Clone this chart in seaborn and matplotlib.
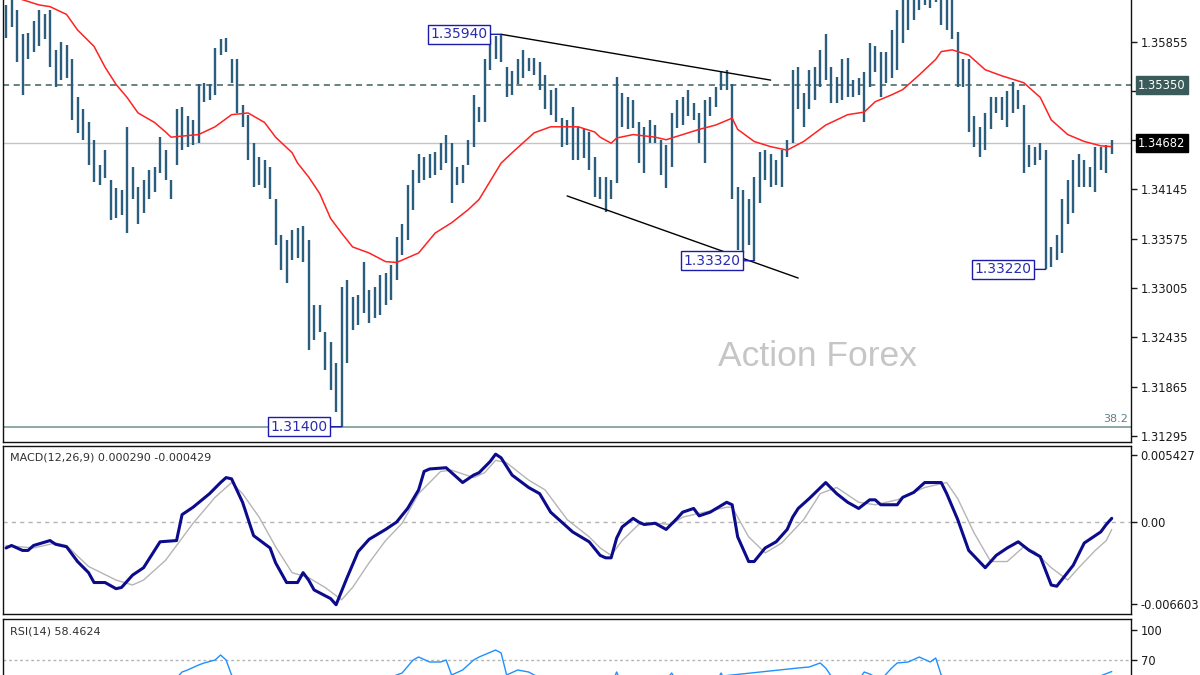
import numpy as np
import pandas as pd
import seaborn as sns
import matplotlib
matplotlib.use("Agg")
import matplotlib.pyplot as plt

# --- price bars (high / low), one per bar ---
high = [1.3628, 1.3637, 1.3622, 1.3594, 1.3596, 1.3609, 1.3622, 1.3617, 1.3622, 1.3576,
        1.3585, 1.3582, 1.3565, 1.3522, 1.3507, 1.3492, 1.3472, 1.3443, 1.3460, 1.3426,
        1.3416, 1.3414, 1.3487, 1.3441, 1.3417, 1.3426, 1.3437, 1.3441, 1.3475, 1.3460,
        1.3426, 1.3507, 1.3510, 1.3499, 1.3495, 1.3536, 1.3538, 1.3536, 1.3578, 1.3588,
        1.3590, 1.3565, 1.3565, 1.3512, 1.3501, 1.3468, 1.3452, 1.3449, 1.3441, 1.3403,
        1.3362, 1.3356, 1.3368, 1.3370, 1.3372, 1.3356, 1.3281, 1.3281, 1.3249, 1.3238,
        1.3214, 1.3302, 1.3310, 1.3290, 1.3292, 1.3330, 1.3298, 1.3302, 1.3316, 1.3318,
        1.3327, 1.3360, 1.3374, 1.3420, 1.3437, 1.3455, 1.3452, 1.3455, 1.3458, 1.3468,
        1.3478, 1.3468, 1.3440, 1.3443, 1.3472, 1.3524, 1.3510, 1.3565, 1.3588, 1.3592,
        1.3594, 1.3556, 1.3551, 1.3565, 1.3576, 1.3567, 1.3567, 1.3562, 1.3547, 1.3530,
        1.3532, 1.3497, 1.3495, 1.3510, 1.3487, 1.3484, 1.3481, 1.3452, 1.3429, 1.3429,
        1.3426, 1.3545, 1.3526, 1.3522, 1.3518, 1.3492, 1.3487, 1.3495, 1.3489, 1.3472,
        1.3466, 1.3503, 1.3518, 1.3521, 1.3530, 1.3515, 1.3503, 1.3518, 1.3521, 1.3533,
        1.3551, 1.3553, 1.3536, 1.3417, 1.3414, 1.3403, 1.3429, 1.3458, 1.3460, 1.3455,
        1.3449, 1.3460, 1.3472, 1.3553, 1.3556, 1.3526, 1.3553, 1.3556, 1.3576, 1.3594,
        1.3556, 1.3545, 1.3565, 1.3567, 1.3541, 1.3544, 1.3550, 1.3584, 1.3580, 1.3573,
        1.3573, 1.3599, 1.3622, 1.3634, 1.3640, 1.3643, 1.3651, 1.3657, 1.3651, 1.3655,
        1.3640, 1.3640, 1.3634, 1.3597, 1.3565, 1.3565, 1.3499, 1.3487, 1.3503, 1.3522,
        1.3522, 1.3522, 1.3528, 1.3539, 1.3530, 1.3512, 1.3466, 1.3464, 1.3468, 1.3460,
        1.3348, 1.3362, 1.3403, 1.3426, 1.3449, 1.3455, 1.3449, 1.3441, 1.3464, 1.3464,
        1.3466, 1.3472]
low = [1.3590, 1.3602, 1.3562, 1.3524, 1.3565, 1.3574, 1.3580, 1.3588, 1.3556, 1.3533,
       1.3541, 1.3544, 1.3495, 1.3480, 1.3472, 1.3443, 1.3423, 1.3420, 1.3428, 1.3379,
       1.3381, 1.3385, 1.3364, 1.3403, 1.3374, 1.3387, 1.3403, 1.3412, 1.3434, 1.3426,
       1.3403, 1.3443, 1.3460, 1.3464, 1.3466, 1.3468, 1.3516, 1.3518, 1.3524, 1.3570,
       1.3573, 1.3538, 1.3503, 1.3487, 1.3449, 1.3417, 1.3420, 1.3416, 1.3403, 1.3350,
       1.3321, 1.3306, 1.3333, 1.3335, 1.3331, 1.3229, 1.3240, 1.3249, 1.3206, 1.3182,
       1.3157, 1.3140, 1.3214, 1.3252, 1.3258, 1.3272, 1.3260, 1.3266, 1.3269, 1.3281,
       1.3287, 1.3310, 1.3339, 1.3356, 1.3391, 1.3422, 1.3426, 1.3428, 1.3431, 1.3437,
       1.3445, 1.3399, 1.3420, 1.3422, 1.3443, 1.3464, 1.3492, 1.3492, 1.3553, 1.3565,
       1.3562, 1.3521, 1.3524, 1.3536, 1.3544, 1.3551, 1.3547, 1.3530, 1.3507, 1.3501,
       1.3492, 1.3464, 1.3466, 1.3449, 1.3449, 1.3451, 1.3437, 1.3406, 1.3403, 1.3388,
       1.3403, 1.3422, 1.3487, 1.3484, 1.3486, 1.3445, 1.3434, 1.3468, 1.3468, 1.3431,
       1.3416, 1.3441, 1.3486, 1.3489, 1.3499, 1.3495, 1.3468, 1.3445, 1.3499, 1.3510,
       1.3530, 1.3530, 1.3403, 1.3345, 1.3341, 1.3350, 1.3332, 1.3399, 1.3426, 1.3417,
       1.3420, 1.3417, 1.3452, 1.3468, 1.3507, 1.3487, 1.3507, 1.3518, 1.3533, 1.3541,
       1.3515, 1.3515, 1.3518, 1.3522, 1.3522, 1.3524, 1.3492, 1.3533, 1.3550, 1.3522,
       1.3538, 1.3544, 1.3553, 1.3584, 1.3599, 1.3611, 1.3622, 1.3628, 1.3625, 1.3631,
       1.3605, 1.3599, 1.3588, 1.3533, 1.3533, 1.3481, 1.3464, 1.3452, 1.3460, 1.3484,
       1.3503, 1.3495, 1.3487, 1.3503, 1.3507, 1.3434, 1.3441, 1.3443, 1.3449, 1.3322,
       1.3325, 1.3333, 1.3341, 1.3374, 1.3387, 1.3417, 1.3417, 1.3417, 1.3412, 1.3437,
       1.3434, 1.3455]

# moving average (red), read at these bars
ma_bar = [0, 3, 6, 8, 11, 13, 16, 18, 20, 22,
          24, 27, 29, 30, 35, 38, 41, 44, 47, 49,
          52, 53, 55, 57, 59, 61, 63, 66, 69, 71,
          75, 78, 81, 84, 86, 90, 92, 96, 99, 104,
          107, 108, 110, 111, 114, 118, 120, 123, 126, 129,
          132, 133, 136, 139, 142, 145, 149, 153, 156, 158,
          161, 163, 166, 169, 170, 172, 175, 178, 181, 184,
          185, 188, 190, 193, 196, 199, 201]
ma_val = [1.3641, 1.3634, 1.3628, 1.3626, 1.3617, 1.3599, 1.3580, 1.3556, 1.3536, 1.3521,
          1.3503, 1.3492, 1.3481, 1.3475, 1.3478, 1.3487, 1.3501, 1.3503, 1.3492, 1.3475,
          1.3457, 1.3445, 1.3429, 1.3410, 1.3381, 1.3364, 1.3348, 1.3341, 1.3331, 1.3330,
          1.3341, 1.3364, 1.3376, 1.3391, 1.3403, 1.3445, 1.3457, 1.3480, 1.3487, 1.3487,
          1.3481, 1.3475, 1.3468, 1.3474, 1.3478, 1.3475, 1.3472, 1.3478, 1.3484, 1.3489,
          1.3497, 1.3484, 1.3470, 1.3464, 1.3460, 1.3470, 1.3489, 1.3501, 1.3504, 1.3516,
          1.3524, 1.3530, 1.3547, 1.3565, 1.3574, 1.3576, 1.3570, 1.3553, 1.3546, 1.3540,
          1.3538, 1.3521, 1.3495, 1.3478, 1.3470, 1.3465, 1.3464]

# MACD(12,26,9) main line and signal line
macd_bar = [0, 1, 3, 4, 5, 8, 9, 11, 13, 15, 16, 18, 20, 21, 23, 25, 28, 31, 32, 34,
            37, 39, 40, 41, 43, 45, 48, 49, 51, 53, 54, 55, 56, 59, 60, 62, 64, 66, 69, 71,
            73, 75, 76, 77, 80, 82, 83, 85, 86, 88, 89, 90, 92, 95, 97, 99, 101, 103, 106, 108,
            109, 110, 111, 112, 114, 115, 116, 118, 120, 122, 123, 125, 126, 128, 131, 132, 133, 135, 136, 138,
            140, 142, 143, 144, 146, 149, 151, 153, 155, 157, 158, 159, 162, 163, 165, 167, 170, 171, 173, 175,
            178, 180, 182, 184, 186, 188, 190, 191, 194, 196, 199, 200, 201]
macd_val = [-0.0021, -0.0019, -0.0023, -0.0023, -0.0019, -0.0015, -0.0018, -0.0020, -0.0032, -0.0041,
            -0.0049, -0.0049, -0.0054, -0.0053, -0.0043, -0.0037, -0.0016, -0.0015, 0.0006, 0.0012,
            0.0023, 0.0032, 0.0036, 0.0035, 0.0016, -0.0011, -0.0021, -0.0033, -0.0049, -0.0049,
            -0.0041, -0.0047, -0.0055, -0.0062, -0.0067, -0.0045, -0.0024, -0.0014, -0.0006, 0.0000,
            0.0011, 0.0026, 0.0041, 0.0043, 0.0044, 0.0036, 0.0032, 0.0038, 0.0040, 0.0049,
            0.0055, 0.0052, 0.0038, 0.0028, 0.0023, 0.0008, 0.0000, -0.0008, -0.0016, -0.0027,
            -0.0029, -0.0029, -0.0013, -0.0004, 0.0003, 0.0000, -0.0002, -0.0001, -0.0006, 0.0003,
            0.0008, 0.0011, 0.0005, 0.0008, 0.0016, 0.0014, -0.0012, -0.0032, -0.0032, -0.0021,
            -0.0016, -0.0006, 0.0004, 0.0011, 0.0019, 0.0032, 0.0023, 0.0016, 0.0011, 0.0018,
            0.0018, 0.0014, 0.0014, 0.0020, 0.0024, 0.0032, 0.0032, 0.0023, 0.0002, -0.0023,
            -0.0037, -0.0027, -0.0021, -0.0016, -0.0023, -0.0028, -0.0051, -0.0052, -0.0035, -0.0017,
            -0.0008, -0.0002, 0.0003]
signal_bar = [0, 5, 9, 11, 15, 20, 23, 25, 29, 34, 38, 41, 43, 46, 49, 52, 55, 58, 61, 63,
              66, 69, 72, 75, 79, 81, 85, 87, 89, 91, 95, 98, 102, 106, 108, 110, 112, 115, 118, 121,
              123, 127, 131, 132, 135, 138, 141, 145, 148, 151, 155, 158, 162, 167, 171, 173, 176, 179, 182, 185,
              187, 190, 193, 195, 198, 200, 201]
signal_val = [-0.0019, -0.0021, -0.0017, -0.0019, -0.0036, -0.0047, -0.0051, -0.0047, -0.0031, -0.0001,
              0.0020, 0.0032, 0.0023, 0.0004, -0.0020, -0.0041, -0.0045, -0.0053, -0.0063, -0.0053,
              -0.0033, -0.0015, -0.0001, 0.0023, 0.0041, 0.0042, 0.0036, 0.0040, 0.0050, 0.0048,
              0.0034, 0.0026, 0.0002, -0.0012, -0.0021, -0.0027, -0.0015, -0.0002, -0.0001, -0.0002,
              0.0004, 0.0008, 0.0012, 0.0012, -0.0012, -0.0025, -0.0017, 0.0002, 0.0023, 0.0028,
              0.0016, 0.0014, 0.0018, 0.0028, 0.0032, 0.0019, -0.0009, -0.0032, -0.0032, -0.0020,
              -0.0024, -0.0037, -0.0047, -0.0037, -0.0023, -0.0015, -0.0006]

# RSI(14) - only the top of the pane is visible
rsi_bar = [0, 8, 16, 25, 31, 32, 33, 35, 36, 38, 39, 40, 41, 43, 50, 61, 66, 72, 74, 75,
           77, 79, 80, 81, 83, 85, 86, 89, 90, 91, 93, 95, 96, 98, 104, 108, 110, 111, 112, 118,
           120, 121, 122, 126, 129, 130, 131, 136, 142, 144, 146, 148, 149, 150, 152, 155, 156, 157, 159, 161,
           162, 164, 166, 168, 169, 170, 175, 180, 190, 198, 201]
rsi_val = [45, 48, 35, 40, 52, 58, 60, 65, 67, 70, 75, 70, 55, 45, 30, 25, 45, 57, 70, 73,
           68, 68, 70, 55, 60, 70, 73, 80, 77, 55, 60, 58, 55, 50, 42, 35, 45, 58, 45, 46,
           50, 57, 48, 42, 48, 57, 45, 30, 54, 62, 63, 67, 62, 54, 48, 50, 58, 56, 50, 62,
           67, 68, 73, 68, 72, 55, 40, 42, 28, 52, 58.46]

# annotations
swing_bar = [90, 61, 136, 189]
swing_side = ["high", "low", "low", "low"]
upper_tl_bar, upper_tl_price = [90, 139], [1.3594, 1.3541]
lower_tl_bar, lower_tl_price = [102, 144], [1.3407, 1.3312]
resist_level = 1.35350
bid_level = 1.34682
fib_level = 1.31400
price_ticks = [1.31295, 1.31865, 1.32435, 1.33005, 1.33575, 1.34145, 1.34715, 1.35285, 1.35855]
hidden_ticks = [1.34715, 1.35285]  # covered by the level boxes
macd_ticks = [0.005427, 0.0, -0.006603]
macd_tick_labels = ["0.005427", "0.00", "-0.006603"]
rsi_ticks = [100, 70]

bars = pd.DataFrame({"high": high, "low": low})
bars["bar"] = np.arange(len(bars))

sns.set_theme(style="white")
plt.rcParams["font.family"] = ["DejaVu Sans"]

W, H = 1200, 675
fig = plt.figure(figsize=(12, 6.75), dpi=100)
fig.patch.set_facecolor("white")


def px_rect(x0, y0, x1, y1):
    return [x0 / W, 1 - y1 / H, (x1 - x0) / W, (y1 - y0) / H]


ax = fig.add_axes(px_rect(3, -30, 1131, 442))
ax_macd = fig.add_axes(px_rect(3, 446, 1131, 614))
ax_rsi = fig.add_axes(px_rect(3, 619, 1131, 740))

for a in (ax, ax_macd, ax_rsi):
    a.set_facecolor("white")
    a.set_xlim(-0.55, 204.5)
    a.set_xticks([])
    a.yaxis.tick_right()
    a.tick_params(axis="y", direction="out", length=4, width=1, pad=3,
                  labelsize=8.3, colors="#1a1a1a", right=True, left=False)
    for s in a.spines.values():
        s.set_color("#111111")
        s.set_linewidth(1)
        s.set_visible(True)

# main pane
ax.set_ylim(1.31223, 1.36684)
ax.axhline(bid_level, color="#c4c4c4", lw=1, zorder=1)
ax.axhline(resist_level, color="#3d5f5f", lw=1.1, ls=(0, (4, 3)), zorder=1)
ax.axhline(fib_level, color="#6f8f8f", lw=1.1, zorder=1)
ax.text(0.997, fib_level + 0.0003, "38.2", transform=ax.get_yaxis_transform(),
        ha="right", va="bottom", fontsize=8, color="#5f7f8f")

ax.vlines(bars["bar"], bars["low"], bars["high"], color="#2b5d7d", lw=1.7, zorder=2)
sns.lineplot(x=ma_bar, y=ma_val, ax=ax, color="#ff2222", lw=1.1, zorder=3)
ax.plot(upper_tl_bar, upper_tl_price, color="black", lw=1, zorder=3)
ax.plot(lower_tl_bar, lower_tl_price, color="black", lw=1, zorder=3)

for b, side in zip(swing_bar, swing_side):
    p = bars.loc[b, side]
    ax.annotate(f"{p:.5f}", xy=(b, p), xytext=(-10, 0), textcoords="offset points",
                ha="right", va="center", fontsize=10, color="#2b2bb0", zorder=5,
                bbox=dict(boxstyle="square,pad=0.18", fc="white", ec="#1c1cab", lw=1),
                arrowprops=dict(arrowstyle="-", color="#1c1cab", lw=1, shrinkA=0, shrinkB=0))

ax.set_yticks(price_ticks)
ax.set_yticklabels(["" if t in hidden_ticks else f"{t:.5f}" for t in price_ticks])
ax.text(1.0062, resist_level, f"{resist_level:.5f}", transform=ax.get_yaxis_transform(),
        ha="left", va="center", fontsize=8.3, color="white", zorder=10,
        bbox=dict(boxstyle="square,pad=0.2", fc="#3b5a5a", ec="#3b5a5a"))
ax.text(1.0062, bid_level, f"{bid_level:.5f}", transform=ax.get_yaxis_transform(),
        ha="left", va="center", fontsize=8.3, color="white", zorder=10,
        bbox=dict(boxstyle="square,pad=0.2", fc="black", ec="black"))
ax.set_xlabel("")
ax.set_ylabel("")

# MACD pane
ax_macd.set_ylim(-0.00745, 0.00616)
ax_macd.axhline(0, color="#b4b4b4", lw=1, ls=(0, (3, 3)))
sns.lineplot(x=signal_bar, y=signal_val, ax=ax_macd, color="#b5b5b5", lw=1)
sns.lineplot(x=macd_bar, y=macd_val, ax=ax_macd, color="#0b0b8c", lw=2.2)
ax_macd.set_yticks(macd_ticks)
ax_macd.set_yticklabels(macd_tick_labels)
ax_macd.set_xlabel("")
ax_macd.set_ylabel("")

# RSI pane
ax_rsi.set_ylim(-10, 111)
ax_rsi.axhline(70, color="#b4b4b4", lw=1, ls=(0, (2, 2)))
ax_rsi.axhline(30, color="#b4b4b4", lw=1, ls=(0, (2, 2)))
sns.lineplot(x=rsi_bar, y=rsi_val, ax=ax_rsi, color="#1e90ff", lw=1)
ax_rsi.set_yticks(rsi_ticks)
ax_rsi.set_yticklabels([str(t) for t in rsi_ticks])
ax_rsi.set_xlabel("")
ax_rsi.set_ylabel("")

# pane captions and watermark
fig.text(10 / W, 1 - 458 / H, "MACD(12,26,9) 0.000290 -0.000429", fontsize=8,
         color="#303030", va="center", ha="left")
fig.text(10 / W, 1 - 632 / H, "RSI(14) 58.4624", fontsize=8,
         color="#303030", va="center", ha="left")
fig.text(818 / W, 1 - 356 / H, "Action Forex", fontsize=25.5, color="#c6c6c6",
         family="Liberation Sans", ha="center", va="center")

fig.savefig("out.png", dpi=100)
